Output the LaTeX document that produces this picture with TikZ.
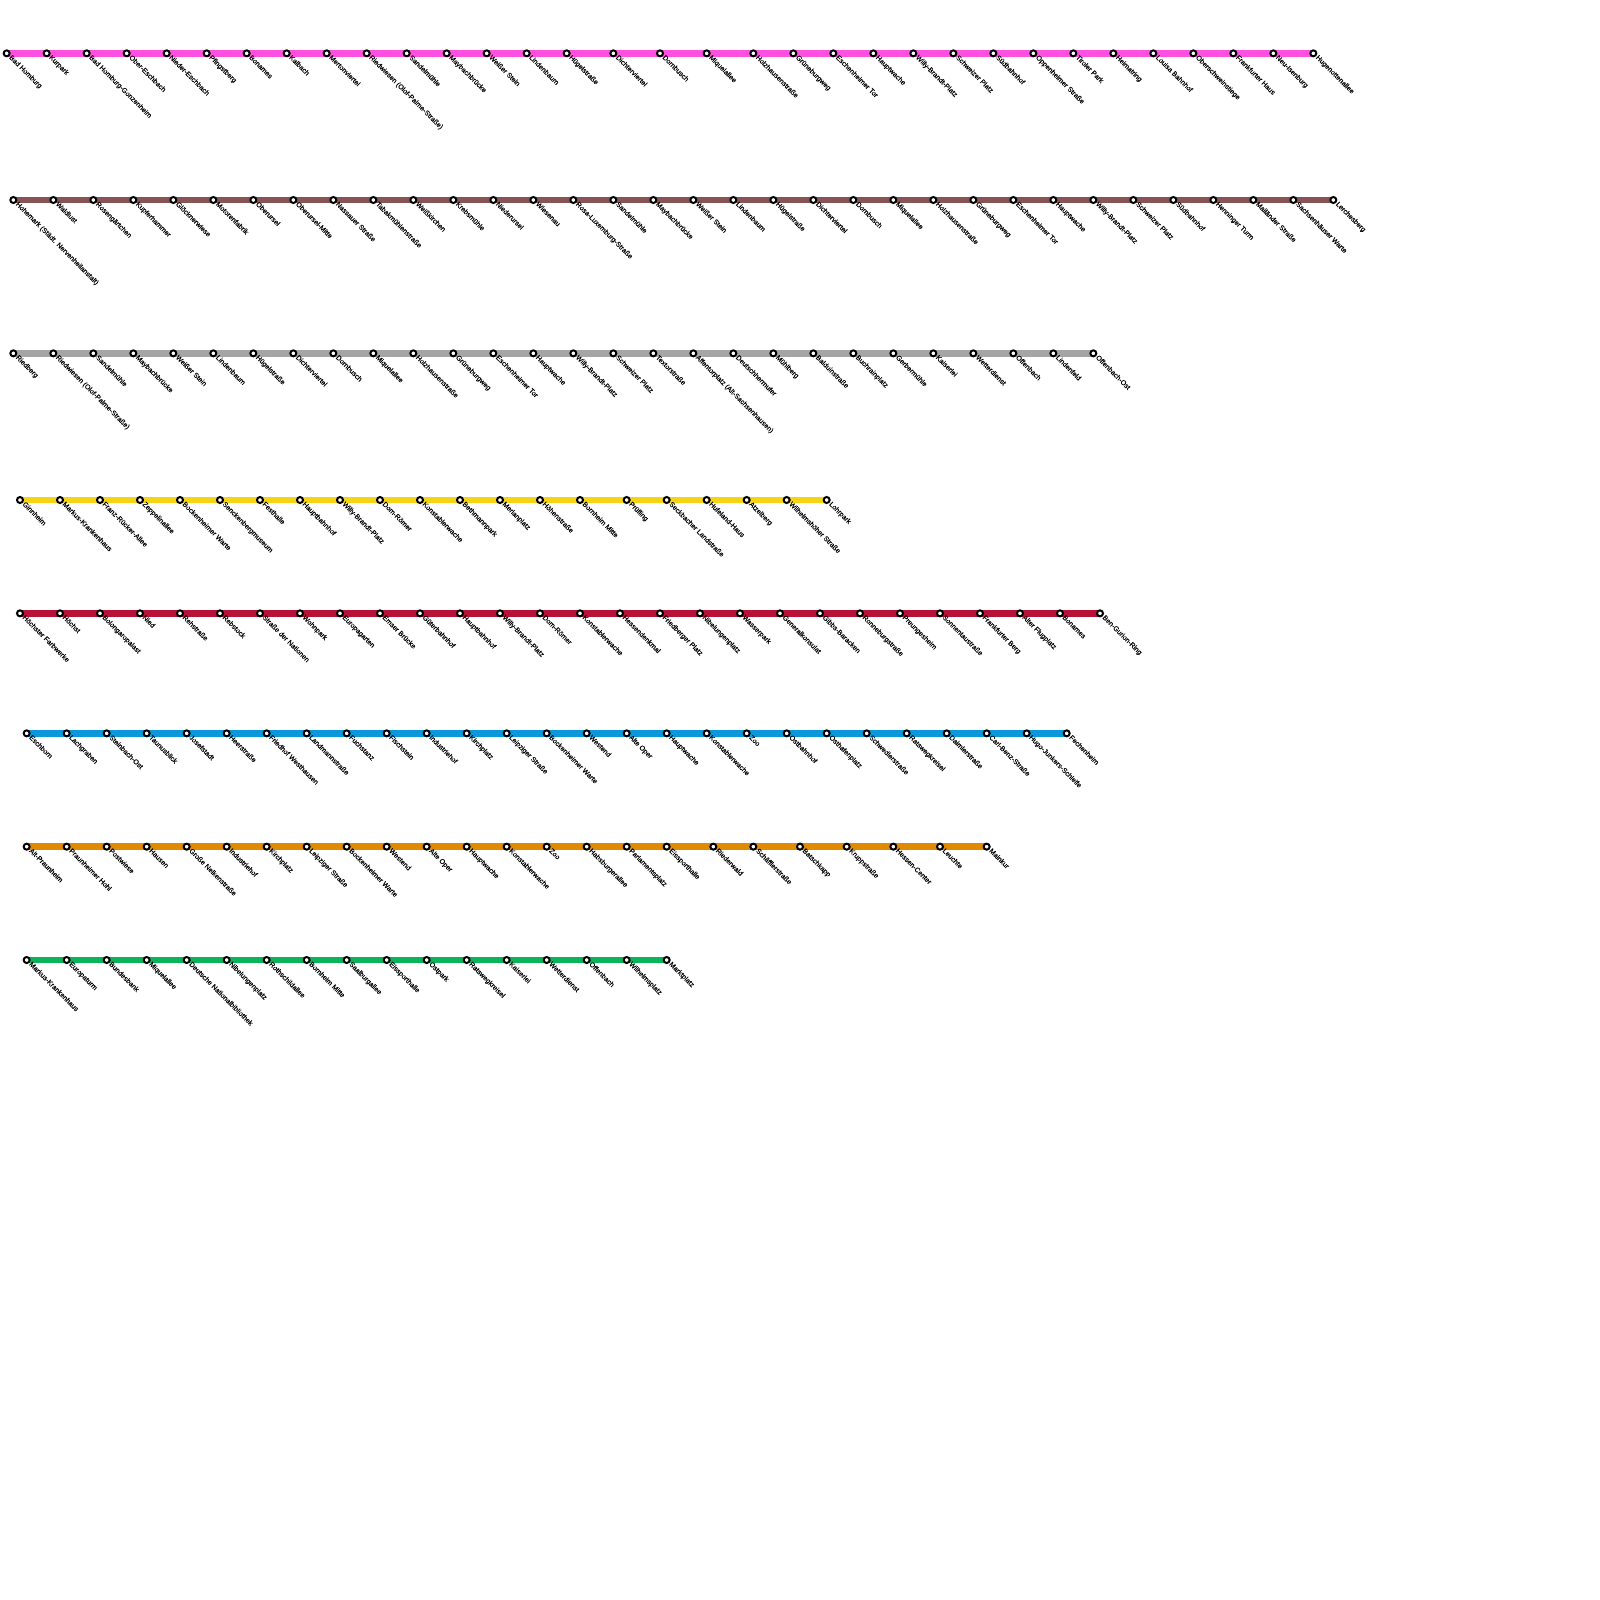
\documentclass[tikz,border=0pt]{standalone}
\usepackage{fontspec}
\setmainfont{Liberation Sans}
\newfontfamily\rmnamefont{Liberation Sans}[FakeBold=0.2]
\usepackage{xcolor}
\usetikzlibrary{backgrounds}
\definecolor{rmpink}{RGB}{255,80,225}
\definecolor{rmbrown}{RGB}{135,85,85}
\definecolor{rmgrey}{RGB}{165,165,165}
\definecolor{rmyellow}{RGB}{245,212,21}
\definecolor{rmred}{RGB}{184,18,56}
\definecolor{rmblue}{RGB}{10,152,218}
\definecolor{rmorange}{RGB}{224,138,0}
\definecolor{rmgreen}{RGB}{10,181,90}
\tikzset{
  rmline/.style={line width=5pt},
  rmstop/.style={draw=black, line width=1.5pt, circle, fill=white, minimum size=4.5pt, inner sep=0pt},
  rmname/.style={anchor=base west, rotate=-45, inner sep=0pt, font=\rmnamefont\fontsize{5.25}{6}\selectfont}
}
\begin{document}
\begin{tikzpicture}[x=1pt, y=-1pt]
  \useasboundingbox (0,0) rectangle (1200,1200);
  % U1
  \foreach \x/\lab in {5/Bad Homburg,35/Kurpark,65/Bad Homburg-Gonzenheim,95/Ober-Eschbach,125/Nieder-Eschbach,155/Pfingstberg,185/Bonames,215/Kalbach,245/Mertonviertel,275/Riedwiesen (Olof-Palme-Straße),305/Sandelmühle,335/Maybachbrücke,365/Weißer Stein,395/Lindenbaum,425/Hügelstraße,460/Dichterviertel,495/Dornbusch,530/Miquelallee,565/Holzhausenstraße,595/Grüneburgweg,625/Eschenheimer Tor,655/Hauptwache,685/Willy-Brandt-Platz,715/Schweizer Platz,745/Südbahnhof,775/Oppenheimer Straße,805/Tiroler Park,835/Heimatring,865/Louisa Bahnhof,895/Oberschweinstiege,925/Frankfurter Haus,955/Neu-Isenburg,985/Hugenottenallee} {
    \node[rmstop] (a\x) at (\x,40) {};
    \node[rmname] (na\x) at (\x+1.5,43.4) {\lab};
  }
  \begin{scope}[on background layer]
    \draw[rmline, rmpink] (a5.center) -- (a985.center);
  \end{scope}
  % U2
  \foreach \x/\lab in {10/Hohemark (Städt. Nervenheilanstalt),40/Waldlust,70/Rosengärtchen,100/Kupferhammer,130/Glöcknerwiese,160/Motorenfabrik,190/Oberursel,220/Oberursel-Mitte,250/Nassauer Straße,280/Tabakmühlenstraße,310/Weißkirchen,340/Krebsmühle,370/Niederursel,400/Wiesenau,430/Rosa-Luxemburg-Straße,460/Sandelmühle,490/Maybachbrücke,520/Weißer Stein,550/Lindenbaum,580/Hügelstraße,610/Dichterviertel,640/Dornbusch,670/Miquelallee,700/Holzhausenstraße,730/Grüneburgweg,760/Eschenheimer Tor,790/Hauptwache,820/Willy-Brandt-Platz,850/Schweizer Platz,880/Südbahnhof,910/Henninger Turm,940/Mailänder Straße,970/Sachsenhäuser Warte,1000/Lerchesberg} {
    \node[rmstop] (b\x) at (\x,150) {};
    \node[rmname] (nb\x) at (\x+1.5,153.4) {\lab};
  }
  \begin{scope}[on background layer]
    \draw[rmline, rmbrown] (b10.center) -- (b1000.center);
  \end{scope}
  % U3
  \foreach \x/\lab in {10/Riedberg,40/Riedwiesen (Olof-Palme-Straße),70/Sandelmühle,100/Maybachbrücke,130/Weißer Stein,160/Lindenbaum,190/Hügelstraße,220/Dichterviertel,250/Dornbusch,280/Miquelallee,310/Holzhausenstraße,340/Grüneburgweg,370/Eschenheimer Tor,400/Hauptwache,430/Willy-Brandt-Platz,460/Schweizer Platz,490/Textorstraße,520/Affentorplatz (Alt-Sachsenhausen),550/Deutschherrnufer,580/Mühlberg,610/Balduinstraße,640/Buchrainplatz,670/Gerbermühle,700/Kaiserlei,730/Wetterdienst,760/Offenbach,790/Lindenfeld,820/Offenbach-Ost} {
    \node[rmstop] (c\x) at (\x,265) {};
    \node[rmname] (nc\x) at (\x+1.5,268.4) {\lab};
  }
  \begin{scope}[on background layer]
    \draw[rmline, rmgrey] (c10.center) -- (c820.center);
  \end{scope}
  % U4
  \foreach \x/\lab in {15/Ginnheim,45/Markus-Krankenhaus,75/Franz-Rücker-Allee,105/Zeppelinallee,135/Bockenheimer Warte,165/Senckenbergmuseum,195/Festhalle,225/Hauptbahnhof,255/Willy-Brandt-Platz,285/Dom-Römer,315/Konstablerwache,345/Bethmannpark,375/Merianplatz,405/Höhenstraße,435/Bornheim Mitte,470/Prüfling,500/Seckbacher Landstraße,530/Hufeland-Haus,560/Atzelberg,590/Wilhelmshöher Straße,620/Lohrpark} {
    \node[rmstop] (d\x) at (\x,375) {};
    \node[rmname] (nd\x) at (\x+1.5,378.4) {\lab};
  }
  \begin{scope}[on background layer]
    \draw[rmline, rmyellow] (d15.center) -- (d620.center);
  \end{scope}
  % U5
  \foreach \x/\lab in {15/Höchster Farbwerke,45/Höchst,75/Bolongaropalast,105/Nied,135/Rehstraße,165/Rebstock,195/Straße der Nationen,225/Wohnpark,255/Europagarten,285/Emser Brücke,315/Güterbahnhof,345/Hauptbahnhof,375/Willy-Brandt-Platz,405/Dom-Römer,435/Konstablerwache,465/Hessendenkmal,495/Friedberger Platz,525/Nibelungenplatz,555/Wasserpark,585/Generalkonsulat,615/Gibbs-Baracken,645/Ronneburgstraße,675/Preungesheim,705/Sonnentaustraße,735/Frankfurter Berg,765/Alter Flugplatz,795/Bonames,825/Ben-Gurion-Ring} {
    \node[rmstop] (e\x) at (\x,460) {};
    \node[rmname] (ne\x) at (\x+1.5,463.4) {\lab};
  }
  \begin{scope}[on background layer]
    \draw[rmline, rmred] (e15.center) -- (e825.center);
  \end{scope}
  % U6
  \foreach \x/\lab in {20/Eschborn,50/Lachgraben,80/Steinbach-Ost,110/Taunusblick,140/Josefstadt,170/Heerstraße,200/Friedhof Westhausen,230/Landmannstraße,260/Fuchstanz,290/Fischstein,320/Industriehof,350/Kirchplatz,380/Leipziger Straße,410/Bockenheimer Warte,440/Westend,470/Alte Oper,500/Hauptwache,530/Konstablerwache,560/Zoo,590/Ostbahnhof,620/Osthafenplatz,650/Schwedlerstraße,680/Ratswegkreisel,710/Daimlerstraße,740/Carl-Benz-Straße,770/Hugo-Junkers-Schleife,800/Fechenheim} {
    \node[rmstop] (f\x) at (\x,550) {};
    \node[rmname] (nf\x) at (\x+1.5,553.4) {\lab};
  }
  \begin{scope}[on background layer]
    \draw[rmline, rmblue] (f20.center) -- (f800.center);
  \end{scope}
  % U7
  \foreach \x/\lab in {20/Alt-Praunheim,50/Praunheimer Hohl,80/Postwiese,110/Hausen,140/Große Nelkenstraße,170/Industriehof,200/Kirchplatz,230/Leipziger Straße,260/Bockenheimer Warte,290/Westend,320/Alte Oper,350/Hauptwache,380/Konstablerwache,410/Zoo,440/Habsburgerallee,470/Parlamentsplatz,500/Eissporthalle,535/Riederwald,565/Schäfflerstraße,600/Batschkapp,635/Kruppstraße,670/Hessen-Center,705/Leuchte,740/Mainkur} {
    \node[rmstop] (g\x) at (\x,635) {};
    \node[rmname] (ng\x) at (\x+1.5,638.4) {\lab};
  }
  \begin{scope}[on background layer]
    \draw[rmline, rmorange] (g20.center) -- (g740.center);
  \end{scope}
  % U8
  \foreach \x/\lab in {20/Markus-Krankenhaus,50/Europaturm,80/Bundesbank,110/Miquelallee,140/Deutsche Nationalbibliothek,170/Nibelungenplatz,200/Rothschildallee,230/Bornheim Mitte,260/Saalburgallee,290/Eissporthalle,320/Ostpark,350/Ratswegkreisel,380/Kaiserlei,410/Wetterdienst,440/Offenbach,470/Wilhelmsplatz,500/Marktplatz} {
    \node[rmstop] (h\x) at (\x,720) {};
    \node[rmname] (nh\x) at (\x+1.5,723.4) {\lab};
  }
  \begin{scope}[on background layer]
    \draw[rmline, rmgreen] (h20.center) -- (h500.center);
  \end{scope}
\end{tikzpicture}
\end{document}
